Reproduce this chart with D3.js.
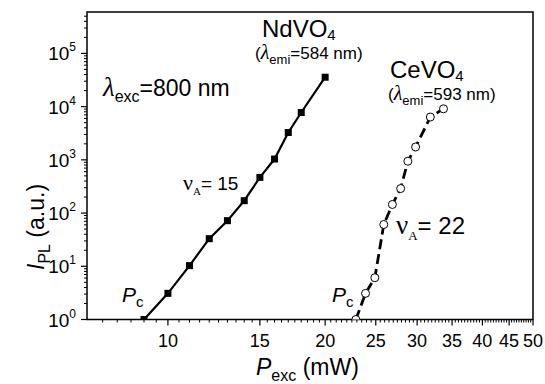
<!DOCTYPE html>
<html>
<head>
<meta charset="utf-8">
<script src="https://cdn.jsdelivr.net/npm/d3@7"></script>
<style>
  html, body { margin: 0; background: #fff; }
  svg { display: block; font-family: "Liberation Sans", Arial, sans-serif; }
</style>
</head>
<body>
<svg id="chart" width="545" height="384"></svg>
<script>
// NdVO4 (filled squares, solid line)
const ndPower = [9, 10, 11, 12, 13, 14, 15, 16, 17, 18, 20]
const ndIntensity = [1, 3.1, 10.3, 33, 72, 171, 468, 1035, 3266, 7750, 35700]

// CeVO4 (open circles, dashed line)
const cePower = [22.9, 23.9, 24.9, 25.9, 26.9, 27.9, 28.8, 29.8, 31.8, 33.7]
const ceIntensity = [1, 3.1, 6.1, 61, 145, 289, 942, 1746, 6380, 9100]

const xTicks = [10, 15, 20, 25, 30, 35, 40, 45, 50]
const yTicks = [1, 10, 100, 1000, 10000, 100000]

const svg = d3.select('#chart')
const plotL = 87, plotR = 533, plotT = 12, plotB = 319.5

const x = d3.scaleLog().domain([7, 50]).range([plotL, plotR])
const y = d3.scaleLog().domain([1, 6e5]).range([plotB, plotT])

// minor ticks
const xMinor = d3.range(7.5, 50, 0.5).filter(v => !xTicks.includes(v))
const yMinor = []
for (let e = 0; e < 6; e++) for (let m = 2; m <= 9; m++) {
  const v = m * 10 ** e
  if (v < 6e5) yMinor.push(v)
}

const axisColor = '#000'

// x axis
const gx = svg.append('g').attr('transform', `translate(0,${plotB})`)
gx.selectAll('line.minor').data(xMinor).join('line')
  .attr('x1', d => x(d)).attr('x2', d => x(d)).attr('y1', 0).attr('y2', 3)
  .attr('stroke', axisColor).attr('stroke-width', 1)
gx.selectAll('line.major').data(xTicks).join('line')
  .attr('x1', d => x(d)).attr('x2', d => x(d)).attr('y1', 0).attr('y2', 6)
  .attr('stroke', axisColor).attr('stroke-width', 1.2)
gx.selectAll('text').data(xTicks).join('text')
  .attr('x', d => x(d)).attr('y', 27)
  .attr('text-anchor', 'middle').attr('font-size', 18)
  .text(d => d)

// y axis
const gy = svg.append('g').attr('transform', `translate(${plotL},0)`)
gy.selectAll('line.minor').data(yMinor).join('line')
  .attr('x1', -3).attr('x2', 0).attr('y1', d => y(d)).attr('y2', d => y(d))
  .attr('stroke', axisColor).attr('stroke-width', 1)
gy.selectAll('line.major').data(yTicks).join('line')
  .attr('x1', -6).attr('x2', 0).attr('y1', d => y(d)).attr('y2', d => y(d))
  .attr('stroke', axisColor).attr('stroke-width', 1.2)
const yl = gy.selectAll('text').data(yTicks).join('text')
  .attr('x', -11).attr('y', d => y(d) + 7)
  .attr('text-anchor', 'end').attr('font-size', 19)
yl.append('tspan').text('10')
yl.append('tspan').attr('font-size', 12).attr('dy', -9).text(d => Math.round(Math.log10(d)))

// frame
svg.append('rect')
  .attr('x', plotL).attr('y', plotT).attr('width', plotR - plotL).attr('height', plotB - plotT)
  .attr('fill', 'none').attr('stroke', '#000').attr('stroke-width', 1.5)

// data
svg.append('clipPath').attr('id', 'plot').append('rect')
  .attr('x', plotL).attr('y', plotT).attr('width', plotR - plotL).attr('height', plotB - plotT)
const plot = svg.append('g').attr('clip-path', 'url(#plot)')

const nd = ndPower.map((p, i) => [p, ndIntensity[i]])
const ce = cePower.map((p, i) => [p, ceIntensity[i]])
const line = d3.line().x(d => x(d[0])).y(d => y(d[1]))

plot.append('path').attr('d', line(nd))
  .attr('fill', 'none').attr('stroke', '#000').attr('stroke-width', 2.2)
plot.selectAll('rect.nd').data(nd).join('rect')
  .attr('x', d => x(d[0]) - 3.5).attr('y', d => y(d[1]) - 3.5)
  .attr('width', 7).attr('height', 7).attr('fill', '#000')

plot.append('path').attr('d', line(ce))
  .attr('fill', 'none').attr('stroke', '#000').attr('stroke-width', 2.8)
  .attr('stroke-dasharray', '10,5')
plot.selectAll('circle.ce').data(ce).join('circle')
  .attr('cx', d => x(d[0])).attr('cy', d => y(d[1])).attr('r', 4)
  .attr('fill', '#fff').attr('stroke', '#000').attr('stroke-width', 1)

// annotations
function label(xp, yp, size, parts) {
  const t = svg.append('text').attr('x', xp).attr('y', yp).attr('font-size', size)
  parts.forEach(p => {
    const s = t.append('tspan').text(p.t)
    if (p.size) s.attr('font-size', p.size)
    if (p.dy) s.attr('dy', p.dy)
    if (p.style) s.attr('font-style', p.style)
    if (p.family) s.attr('font-family', p.family)
  })
  return t
}

label(103, 96, 23, [
  {t: 'λ', style: 'italic', family: 'Liberation Serif', size: 27},
  {t: 'exc', size: 16, dy: 6},
  {t: '=800 nm', dy: -6}
])
label(262, 37, 24, [{t: 'NdVO'}, {t: '4', size: 15, dy: 3}])
label(255, 59, 17, [
  {t: '(', },
  {t: 'λ', style: 'italic', family: 'Liberation Serif', size: 20},
  {t: 'emi', size: 13, dy: 5},
  {t: '=584 nm)', dy: -5}
])
label(390, 78, 24, [{t: 'CeVO'}, {t: '4', size: 15, dy: 3}])
label(388, 100, 17, [
  {t: '(', },
  {t: 'λ', style: 'italic', family: 'Liberation Serif', size: 20},
  {t: 'emi', size: 13, dy: 5},
  {t: '=593 nm)', dy: -5}
])
label(183, 190, 19, [
  {t: 'ν', family: 'Liberation Serif', size: 22},
  {t: 'A', family: 'Liberation Serif', size: 11, dy: 5},
  {t: '= 15', dy: -5}
])
label(396, 234, 24, [
  {t: 'ν', family: 'Liberation Serif', size: 27},
  {t: 'A', family: 'Liberation Serif', size: 13, dy: 6},
  {t: '= 22', dy: -6}
])
label(122, 302, 21, [{t: 'P', style: 'italic'}, {t: 'c', size: 15, dy: 5}])
label(332, 302, 21, [{t: 'P', style: 'italic'}, {t: 'c', size: 15, dy: 5}])

// axis titles
label(256, 375, 23, [
  {t: 'P', style: 'italic'},
  {t: 'exc', size: 16, dy: 6},
  {t: ' (mW)', dy: -6}
])
label(0, 0, 23, [
  {t: 'I', style: 'italic'},
  {t: 'PL', size: 16, dy: 6},
  {t: ' (a.u.)', dy: -6}
]).attr('transform', 'translate(44,270) rotate(-90)')
</script>
</body>
</html>
